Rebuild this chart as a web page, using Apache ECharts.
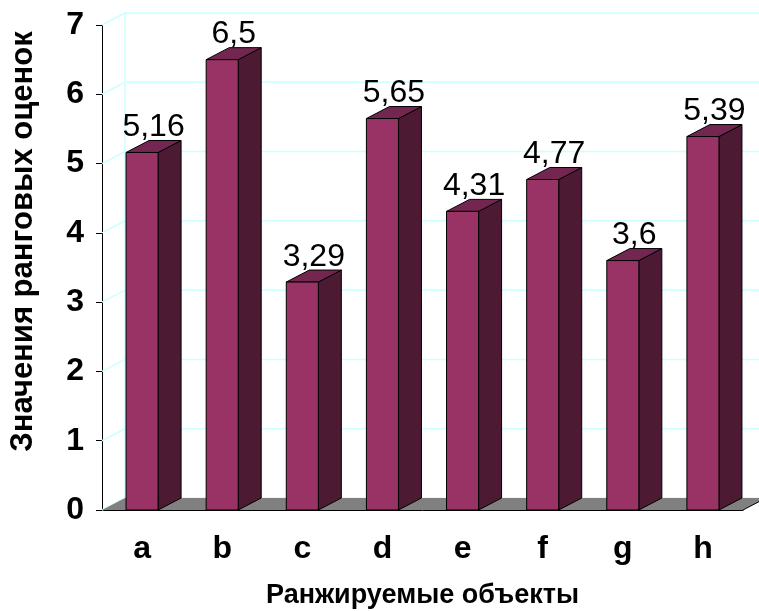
<!DOCTYPE html>
<html>
<head>
<meta charset="utf-8">
<script src="https://cdn.jsdelivr.net/npm/echarts@6/dist/echarts.min.js"></script>
<style>
  html, body { margin: 0; padding: 0; background: #fff; }
  #chart { width: 759px; height: 611px; }
</style>
</head>
<body>
<div id="chart"></div>
<script>
const categories = ['a', 'b', 'c', 'd', 'e', 'f', 'g', 'h']
const values = [5.16, 6.5, 3.29, 5.65, 4.31, 4.77, 3.6, 5.39]
const valueLabels = ['5,16', '6,5', '3,29', '5,65', '4,31', '4,77', '3,6', '5,39']
const yTicks = [0, 1, 2, 3, 4, 5, 6, 7]

// 3D depth offset (pixels)
const DX = 23
const DY = -12
const FONT = '"Liberation Sans", Arial, sans-serif'

const COLORS = {
  front: '#993366',
  side: '#4d1a33',
  top: '#732650',
  wall: '#ccffff',
  floor: '#808080'
}

function renderWall(params, api) {
  const cs = params.coordSys
  const y = api.coord([0, api.value(0)])[1]
  const children = [{
    type: 'polyline',
    shape: { points: [[cs.x, y], [cs.x + DX, y + DY], [cs.x + cs.width + DX + 20, y + DY]] },
    style: { stroke: COLORS.wall, lineWidth: 1.5, fill: null },
    silent: true
  }]
  if (params.dataIndex === 0) {
    children.push({
      type: 'line',
      shape: { x1: cs.x + DX, y1: cs.y + DY, x2: cs.x + DX, y2: cs.y + cs.height + DY },
      style: { stroke: COLORS.wall, lineWidth: 1.5 },
      silent: true
    })
    const b = cs.y + cs.height
    children.push({
      type: 'polygon',
      shape: { points: [[cs.x, b], [cs.x + DX, b + DY], [cs.x + cs.width + DX, b + DY], [cs.x + cs.width, b]] },
      style: { fill: COLORS.floor, stroke: null },
      silent: true
    })
    children.push({
      type: 'line',
      shape: { x1: cs.x + cs.width, y1: b, x2: cs.x + cs.width + DX, y2: b + DY },
      style: { stroke: '#000', lineWidth: 1 },
      silent: true
    })
  }
  return { type: 'group', children }
}

function renderBar(params, api) {
  const idx = api.value(0)
  const v = api.value(1)
  const base = api.coord([idx, 0])
  const top = api.coord([idx, v])
  const bw = api.size([1, 0])[0] * 0.4
  const x0 = base[0] - bw / 2
  const x1 = base[0] + bw / 2
  const y0 = base[1]
  const y1 = top[1]
  const edge = { stroke: '#000', lineWidth: 1 }
  return {
    type: 'group',
    children: [
      {
        type: 'polygon',
        shape: { points: [[x1, y1], [x1 + DX, y1 + DY], [x1 + DX, y0 + DY], [x1, y0]] },
        style: Object.assign({ fill: COLORS.side }, edge)
      },
      {
        type: 'polygon',
        shape: { points: [[x0, y1], [x0 + DX, y1 + DY], [x1 + DX, y1 + DY], [x1, y1]] },
        style: Object.assign({ fill: COLORS.top }, edge)
      },
      {
        type: 'rect',
        shape: { x: x0, y: y1, width: bw, height: y0 - y1 },
        style: Object.assign({ fill: COLORS.front }, edge)
      },
      {
        type: 'text',
        x: (x0 + x1 + DX) / 2,
        y: y1 + DY + 3,
        style: {
          text: valueLabels[params.dataIndex],
          fill: '#000',
          font: '32px ' + FONT,
          align: 'center',
          verticalAlign: 'bottom'
        }
      }
    ]
  }
}

const chart = echarts.init(document.getElementById('chart'), null, { renderer: 'canvas' })

chart.setOption({
  animation: false,
  backgroundColor: '#fff',
  grid: { left: 102, right: 16, top: 25, bottom: 101, containLabel: false, outerBoundsMode: 'none' },
  xAxis: {
    type: 'category',
    data: categories,
    name: 'Ранжируемые объекты',
    nameLocation: 'middle',
    nameGap: 72,
    nameTextStyle: { fontFamily: FONT, fontWeight: 'bold', fontSize: 27, color: '#000' },
    axisLine: { lineStyle: { color: '#000', width: 1 } },
    axisTick: { length: 6, lineStyle: { color: '#000' } },
    axisLabel: { fontFamily: FONT, fontWeight: 'bold', fontSize: 32, color: '#000', margin: 23 },
    splitLine: { show: false }
  },
  yAxis: {
    type: 'value',
    min: 0,
    max: 7,
    interval: 1,
    name: 'Значения ранговых оценок',
    nameLocation: 'middle',
    nameGap: 63,
    nameTextStyle: { fontFamily: FONT, fontWeight: 'bold', fontSize: 31, color: '#000', padding: [0, 0, 0, 52] },
    axisLine: { show: true, lineStyle: { color: '#000', width: 1 } },
    axisTick: { show: true, length: 6, lineStyle: { color: '#000' } },
    axisLabel: { fontFamily: FONT, fontWeight: 'bold', fontSize: 32, color: '#000', margin: 18 },
    splitLine: { show: false }
  },
  series: [
    {
      type: 'custom',
      name: 'wall',
      z: 1,
      silent: true,
      renderItem: renderWall,
      data: yTicks.map(t => [t]),
      encode: { y: 0 }
    },
    {
      type: 'custom',
      name: 'bars',
      z: 3,
      renderItem: renderBar,
      data: values.map((v, i) => [i, v]),
      encode: { x: 0, y: 1 }
    }
  ]
})
</script>
</body>
</html>
